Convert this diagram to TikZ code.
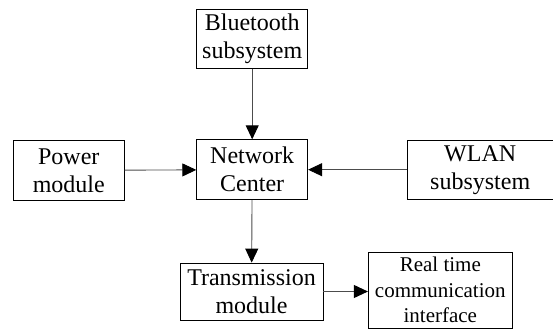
\documentclass[tikz,border=0pt]{standalone}
\usepackage{fontspec}
\setmainfont{Liberation Serif}
\usetikzlibrary{arrows.meta,positioning}

\begin{document}
\begin{tikzpicture}[x=1pt,y=-1pt,
    blk/.style={draw,line width=0.8pt,align=center,inner sep=0pt,
      font=\fontsize{24}{28}\selectfont},
    arr/.style={line width=0.9pt,draw=black!70,-{Triangle[length=14pt,width=13pt,color=black]}}]
    \useasboundingbox (0,0) rectangle (553,329);
    \node[blk,minimum width=111,minimum height=59] (bt) at (252.2,38.6) {Bluetooth\\subsystem};
    \node[blk,minimum width=111,minimum height=60] (nc) at (252.2,169.7) {Network\\Center};
    \node[blk,minimum width=111,minimum height=60] (pm) at (68.8,170.3) {Power\\module};
    \node[blk,minimum width=146,minimum height=59] (wlan) at (480.2,169.7) {WLAN\\subsystem};
    \node[blk,minimum width=143,minimum height=57] (tm) at (251.5,291.5) {Transmission\\module};
    \node[blk,minimum width=144,minimum height=76,font=\fontsize{21}{25.5}\selectfont] (rt) at (440.3,290.3) {Real time\\communication\\interface};
    \draw[arr] (bt) -- (nc);
    \draw[arr] (pm) -- (nc);
    \draw[arr] (wlan) -- (nc);
    \draw[arr] (nc) -- (tm);
    \draw[arr] (tm.east) -- (tm.east -| rt.west);
\end{tikzpicture}
\end{document}
